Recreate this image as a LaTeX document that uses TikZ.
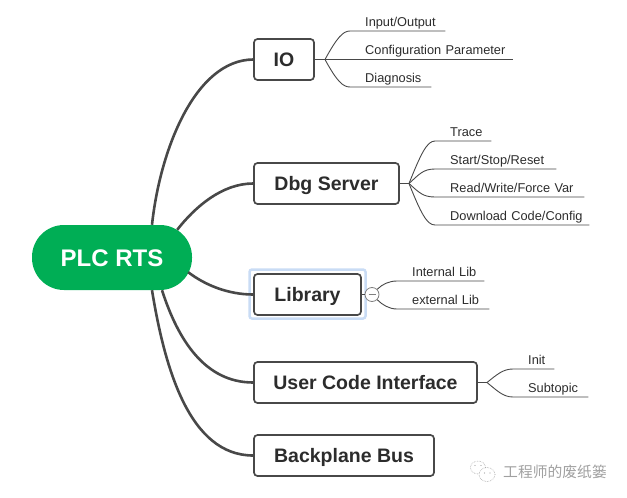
\documentclass[tikz,border=0pt]{standalone}
\usetikzlibrary{calc}
\usepackage{fontspec}
\setmainfont{Liberation Sans}
\newfontfamily\cjkface{Noto Sans CJK SC}
\definecolor{rootgreen}{HTML}{00AE55}
\definecolor{branchgray}{HTML}{484848}
\definecolor{inkdark}{HTML}{2C2C2C}
\definecolor{selectblue}{HTML}{C9DCF5}
\definecolor{marktext}{HTML}{A0A0A0}
\tikzset{
  rootnode/.style={fill=rootgreen,rounded corners=32pt,minimum width=160pt,minimum height=65pt,
    inner sep=0pt,text height=17pt,text depth=0pt,text=white,font=\fontsize{24}{26}\selectfont\bfseries},
  topicbox/.style={draw=branchgray,line width=1.7pt,fill=white,rounded corners=3.5pt,
    minimum height=41pt,inner sep=0pt,text height=14.5pt,text depth=0pt,text=inkdark,
    font=\fontsize{19.5}{22}\selectfont\bfseries},
  subtopic/.style={anchor=south west,inner xsep=0pt,inner ysep=0pt,text height=10pt,text depth=4.5pt,
    align=left,text=inkdark,font=\fontsize{12.8}{15}\selectfont},
  trunk/.style={draw=branchgray,line width=2.6pt},
  stem/.style={draw=branchgray,line width=0.9pt},
  twig/.style={draw=branchgray,line width=0.9pt},
  collapser/.style={circle,draw=gray,line width=0.8pt,fill=white,minimum size=14pt,inner sep=0pt},
  markring/.style={draw=marktext,line width=0.6pt,densely dotted},
}
\begin{document}
\begin{tikzpicture}[x=1pt,y=-1pt]
\useasboundingbox (0,0) rectangle (627,498);

% selection frame round the Library topic
\draw[selectblue,line width=2.5pt,rounded corners=2.5pt] (249.5,269.5) rectangle (365.5,318.5);

% central topic and main topics
\node[rootnode] (root) at (112,257.5) {PLC RTS};
\node[topicbox,minimum width=60pt] (io) at (284,59.5) {IO};
\node[topicbox,minimum width=145pt] (dbg) at (326.5,183.5) {Dbg Server};
\node[topicbox,minimum width=107pt] (lib) at (307.5,294.5) {Library};
\node[topicbox,minimum width=223pt] (uci) at (365.5,382.5) {User Code Interface};
\node[topicbox,minimum width=180pt] (bus) at (344,455.5) {Backplane Bus};

% branches leaving the central topic
\begin{scope}[trunk]
\path (root.north) ++(40,0) coordinate (r1);
\path (root.north east) ++(-15,5) coordinate (r2);
\path (root.south east) ++(-4,-18) coordinate (r3);
\path (root.south) ++(50,0) coordinate (r4);
\path (root.south) ++(40,0) coordinate (r5);
\draw (r1) .. controls (160,150) and (195,60) .. (io.west);
\draw (r2) .. controls (195,207) and (222,183.5) .. (dbg.west);
\draw (r3) .. controls (205,285) and (228,294.5) .. (lib.west);
\draw (r4) .. controls (178,340) and (205,382.5) .. (uci.west);
\draw (r5) .. controls (165,370) and (190,455.5) .. (bus.west);
\end{scope}

% IO subtopics
\coordinate (jio) at (325,59.5);
\draw[stem] (io.east) -- (jio);
\node[subtopic,text width=80pt] (io1) at (365,31) {Input/Output};
\node[subtopic,text width=148pt] (io2) at (365,59.5) {Configuration Parameter};
\node[subtopic,text width=66pt] (io3) at (365,87) {Diagnosis};
\draw[twig] (jio) .. controls +(12,-22) and +(-7,0) .. ($(io1.south west)+(-15,0)$) -- (io1.south east);
\draw[twig] (jio) -- (io2.south west) -- (io2.south east);
\draw[twig] (jio) .. controls +(12,22) and +(-7,0) .. ($(io3.south west)+(-15,0)$) -- (io3.south east);

% debug server subtopics
\coordinate (jdbg) at (409,183.5);
\draw[stem] (dbg.east) -- (jdbg);
\node[subtopic,text width=41pt] (d1) at (450,141) {Trace};
\node[subtopic,text width=106pt] (d2) at (450,169) {Start/Stop/Reset};
\node[subtopic,text width=134pt] (d3) at (450,197) {Read/Write/Force Var};
\node[subtopic,text width=139pt] (d4) at (450,225) {Download Code/Config};
\draw[twig] (jdbg) .. controls +(12,-30) and +(-8,0) .. ($(d1.south west)+(-15,0)$) -- (d1.south east);
\draw[twig] (jdbg) .. controls +(10,-9) and +(-12,0) .. ($(d2.south west)+(-15,0)$) -- (d2.south east);
\draw[twig] (jdbg) .. controls +(10,9) and +(-12,0) .. ($(d3.south west)+(-15,0)$) -- (d3.south east);
\draw[twig] (jdbg) .. controls +(12,30) and +(-8,0) .. ($(d4.south west)+(-15,0)$) -- (d4.south east);

% library subtopics, behind the collapse button
\node[collapser] (minus) at (372,294.5) {};
\draw[gray,line width=0.8pt] (368.5,294.5) -- (375.5,294.5);
\draw[stem] (lib.east) -- (minus.west);
\node[subtopic,text width=72pt] (l1) at (412,281) {Internal Lib};
\node[subtopic,text width=77pt] (l2) at (412,309) {external Lib};
\draw[twig] (minus.north east) .. controls +(5,-5) and +(-8,0) .. ($(l1.south west)+(-15,0)$) -- (l1.south east);
\draw[twig] (minus.south east) .. controls +(5,5) and +(-8,0) .. ($(l2.south west)+(-15,0)$) -- (l2.south east);

% user code interface subtopics
\coordinate (juci) at (487,382.5);
\draw[stem] (uci.east) -- (juci);
\node[subtopic,text width=26pt] (u1) at (528,369) {Init};
\node[subtopic,text width=60pt] (u2) at (528,397) {Subtopic};
\draw[twig] (juci) .. controls +(10,-8) and +(-10,0) .. ($(u1.south west)+(-15,0)$) -- (u1.south east);
\draw[twig] (juci) .. controls +(10,8) and +(-10,0) .. ($(u2.south west)+(-15,0)$) -- (u2.south east);

% account mark in the lower right corner
\draw[markring] (478,467.5) ellipse (7.5pt and 6.5pt);
\draw[markring,fill=white] (487,474.5) ellipse (8pt and 7pt);
\fill[marktext] (475,465.5) circle (0.7pt) (481,465.5) circle (0.7pt) (484.5,473) circle (0.6pt) (490,473) circle (0.6pt);
\node[anchor=west,inner sep=0pt,text=marktext,font=\cjkface\fontsize{14.8}{16}\selectfont] (mark) at (503,471.5) {工程师的废纸篓};
\end{tikzpicture}
\end{document}
